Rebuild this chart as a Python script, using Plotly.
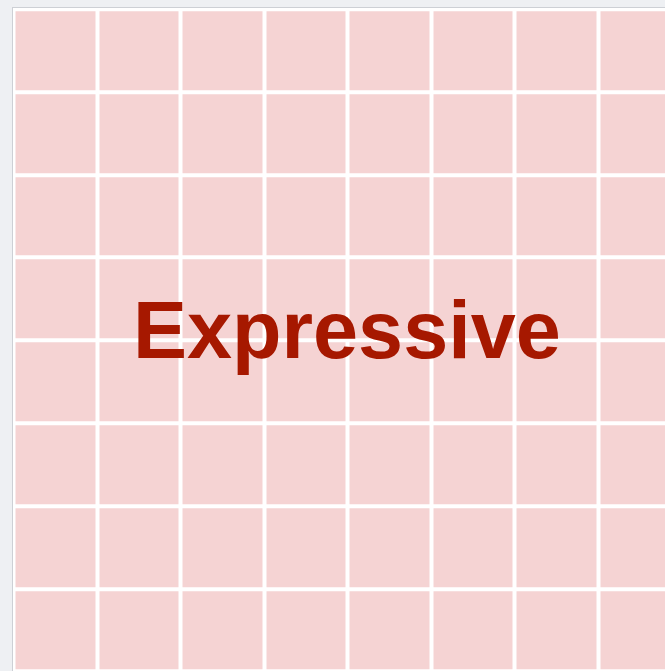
import plotly.graph_objects as go

# Data: a uniform grid of cells (the visible part of the tile grid)
columns = [0, 1, 2, 3, 4, 5, 6, 7, 8, 9]
rows = [0, 1, 2, 3, 4, 5, 6, 7, 8, 9]
cell_values = [
    [1, 1, 1, 1, 1, 1, 1, 1, 1, 1],
    [1, 1, 1, 1, 1, 1, 1, 1, 1, 1],
    [1, 1, 1, 1, 1, 1, 1, 1, 1, 1],
    [1, 1, 1, 1, 1, 1, 1, 1, 1, 1],
    [1, 1, 1, 1, 1, 1, 1, 1, 1, 1],
    [1, 1, 1, 1, 1, 1, 1, 1, 1, 1],
    [1, 1, 1, 1, 1, 1, 1, 1, 1, 1],
    [1, 1, 1, 1, 1, 1, 1, 1, 1, 1],
    [1, 1, 1, 1, 1, 1, 1, 1, 1, 1],
    [1, 1, 1, 1, 1, 1, 1, 1, 1, 1],
]
label_text = "Expressive"

CELL = "#f5d3d3"
BG = "#eef0f3"

fig = go.Figure(
    go.Heatmap(
        x=columns,
        y=rows,
        z=cell_values,
        colorscale=[[0, CELL], [1, CELL]],
        showscale=False,
        xgap=4,
        ygap=4,
        hoverinfo="skip",
    )
)

fig.add_annotation(
    x=3.488,
    y=3.375,
    xref="x",
    yref="y",
    text=label_text,
    showarrow=False,
    font=dict(family="Liberation Sans, Arial, sans-serif", size=81,
              color="#a61800", weight="bold"),
    xanchor="center",
    yanchor="middle",
)

fig.update_layout(
    width=665,
    height=671,
    margin=dict(l=13, t=8, r=0, b=0, pad=0),
    paper_bgcolor=BG,
    plot_bgcolor="#ffffff",
    showlegend=False,
    xaxis=dict(
        range=[-0.506, 7.302],
        showgrid=False,
        zeroline=False,
        showticklabels=False,
        ticks="",
        side="top",
        showline=True,
        linecolor="#cdd0d5",
        linewidth=1,
        fixedrange=True,
    ),
    yaxis=dict(
        range=[7.493, -0.5145],
        showgrid=False,
        zeroline=False,
        showticklabels=False,
        ticks="",
        showline=True,
        linecolor="#cdd0d5",
        linewidth=1,
        fixedrange=True,
    ),
)

fig.write_html(
    "out.html",
    config={"displayModeBar": False},
    post_script="document.body.style.margin='0';document.body.style.overflow='hidden';"
                "document.body.style.background='" + BG + "';",
)
